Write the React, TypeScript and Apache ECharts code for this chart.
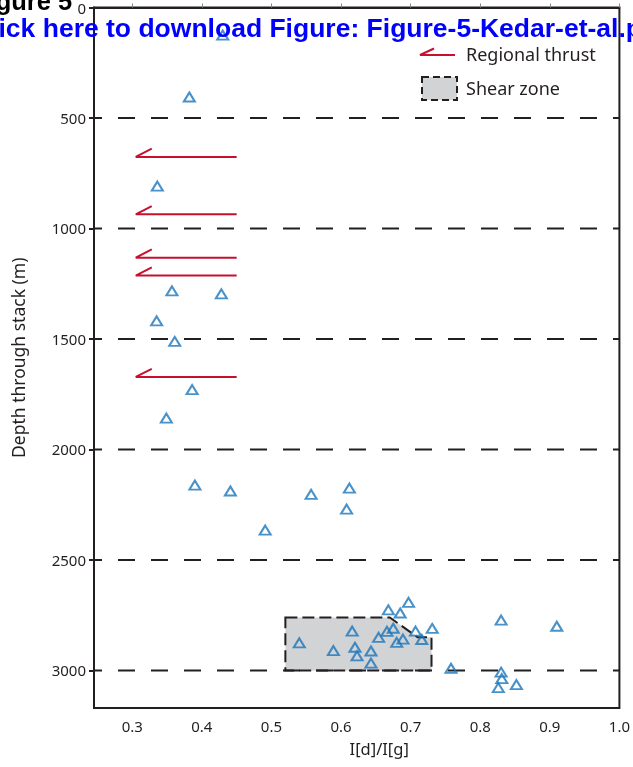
import React, { useEffect, useRef } from "react";
import * as echarts from "echarts";

// Axis ticks
const xTickValues = [0.3, 0.4, 0.5, 0.6, 0.7, 0.8, 0.9, 1.0];
const boundaryDepths = [500, 1000, 1500, 2000, 2500, 3000];

// Measured samples: I[d]/I[g] ratio and depth (m)
const ratioValues = [
  0.43, 0.382, 0.336, 0.357, 0.428, 0.335, 0.361, 0.386, 0.349,
  0.39, 0.441, 0.491, 0.557, 0.612, 0.608,
  0.54, 0.589, 0.616, 0.62, 0.623, 0.643, 0.643, 0.654, 0.666, 0.668, 0.675,
  0.685, 0.697, 0.68, 0.689, 0.707, 0.716, 0.731, 0.758,
  0.83, 0.91, 0.83, 0.831, 0.826, 0.852,
];
const depthValues = [
  125, 405, 808, 1282, 1296, 1418, 1511, 1729, 1858,
  2161, 2188, 2365, 2203, 2175, 2270,
  2875, 2910, 2822, 2895, 2934, 2912, 2967, 2850, 2823, 2726, 2809,
  2740, 2692, 2873, 2858, 2822, 2860, 2810, 2990,
  2772, 2800, 3008, 3037, 3078, 3064,
];

// Regional thrusts (depth, m) and their ratio extent
const thrustDepths = [676, 936, 1132, 1213, 1672];
const thrustFrom = 0.305;
const thrustTo = 0.45;
const thrustBarbTip = 0.328;
const thrustBarbRise = 37;

// Shear zone outline
const shearRatio = [0.52, 0.67, 0.71, 0.73, 0.73, 0.52];
const shearDepth = [2760, 2760, 2850, 2850, 3000, 3000];

const INK = "#231f20";
const BLUE = "#1b75bc";
const RED = "#c8102e";
const FONT = "Noto Sans";

export default function App() {
  const ref = useRef<HTMLDivElement>(null);
  useEffect(() => {
    if (!ref.current) return;
    const chart = echarts.init(ref.current, null, { renderer: "svg" });

    const boundarySeries = boundaryDepths.map((d) => ({
      type: "line",
      data: [
        [0.245, d],
        [1.0, d],
      ],
      showSymbol: false,
      silent: true,
      z: 3,
      lineStyle: { color: INK, width: 2, type: [17, 16], dashOffset: 9 },
    }));

    const thrustSeries = thrustDepths.map((d) => ({
      type: "line",
      data: [
        [thrustBarbTip, d - thrustBarbRise],
        [thrustFrom, d],
        [thrustTo, d],
      ],
      showSymbol: false,
      silent: true,
      z: 4,
      lineStyle: { color: RED, width: 2 },
    }));

    const option: any = {
      animation: false,
      grid: {
        left: 94,
        right: 12,
        top: 6,
        bottom: 59,
        show: true,
        borderColor: INK,
        borderWidth: 2,
      },
      xAxis: {
        type: "value",
        min: 0.245,
        max: 1.0,
        name: "I[d]/I[g]",
        nameLocation: "middle",
        nameGap: 32,
        nameTextStyle: {
          fontFamily: FONT,
          fontSize: 16.5,
          color: INK,
          padding: [0, 0, 0, 45],
        },
        splitLine: { show: false },
        axisLine: { lineStyle: { color: INK, width: 2 } },
        axisTick: {
          customValues: xTickValues,
          inside: true,
          length: 4,
          lineStyle: { color: "#888" },
        },
        axisLabel: {
          customValues: xTickValues,
          formatter: (v: number) => v.toFixed(1),
          fontFamily: FONT,
          fontSize: 15,
          color: INK,
          margin: 10,
        },
      },
      yAxis: {
        type: "value",
        inverse: true,
        min: 0,
        max: 3170,
        interval: 500,
        name: "Depth through stack (m)",
        nameLocation: "middle",
        nameGap: 67,
        nameRotate: 90,
        nameTextStyle: { fontFamily: FONT, fontSize: 17.5, color: INK },
        splitLine: { show: false },
        axisLine: { lineStyle: { color: INK, width: 2 } },
        axisTick: { length: 5, lineStyle: { color: INK, width: 2 } },
        axisLabel: {
          fontFamily: FONT,
          fontSize: 15,
          color: INK,
          margin: 8,
          showMaxLabel: false,
          formatter: (v: number) => String(v),
        },
      },
      series: [
        {
          type: "custom",
          silent: true,
          z: 1,
          data: [[shearRatio[0], shearDepth[0]]],
          renderItem: (_p: any, api: any) => {
            const pts = shearRatio.map((x, i) => api.coord([x, shearDepth[i]]));
            return {
              type: "polygon",
              shape: { points: pts },
              style: {
                fill: "#d1d3d4",
                stroke: INK,
                lineWidth: 2,
                lineDash: [12, 5],
              },
            };
          },
        },
        ...boundarySeries,
        ...thrustSeries,
        {
          type: "scatter",
          z: 6,
          symbol: "triangle",
          symbolSize: [11, 9],
          data: ratioValues.map((r, i) => [r, depthValues[i]]),
          itemStyle: {
            color: "rgba(255,255,255,0)",
            borderColor: BLUE,
            borderWidth: 2,
          },
        },
      ],
      graphic: [
        {
          type: "polyline",
          shape: { points: [[434, 48.5], [420, 55], [455, 55]] },
          style: { stroke: RED, lineWidth: 2, fill: null },
        },
        {
          type: "text",
          x: 466,
          y: 54,
          style: {
            text: "Regional thrust",
            fontFamily: FONT,
            fontSize: 18,
            fill: INK,
            verticalAlign: "middle",
          },
        },
        {
          type: "rect",
          shape: { x: 422, y: 77, width: 35, height: 23 },
          style: { fill: "#d1d3d4", stroke: INK, lineWidth: 2, lineDash: [7, 4] },
        },
        {
          type: "text",
          x: 466,
          y: 88,
          style: {
            text: "Shear zone",
            fontFamily: FONT,
            fontSize: 18,
            fill: INK,
            verticalAlign: "middle",
          },
        },
        {
          type: "text",
          x: -27,
          y: 1,
          z: 100,
          style: {
            text: "Figure 5",
            fontFamily: "Liberation Sans",
            fontWeight: "bold",
            fontSize: 25.5,
            fill: "#000",
            verticalAlign: "middle",
          },
        },
        {
          type: "text",
          x: -28,
          y: 28,
          z: 100,
          style: {
            text: "Click here to download Figure: Figure-5-Kedar-et-al.pdf",
            fontFamily: "Liberation Sans",
            fontWeight: "bold",
            fontSize: 26.5,
            fill: "#0000ff",
            verticalAlign: "middle",
          },
        },
      ],
    };
    chart.setOption(option);
    return () => chart.dispose();
  }, []);
  return (
    <div
      ref={ref}
      style={{ position: "fixed", left: 0, top: 0, width: 633, height: 767 }}
    />
  );
}
